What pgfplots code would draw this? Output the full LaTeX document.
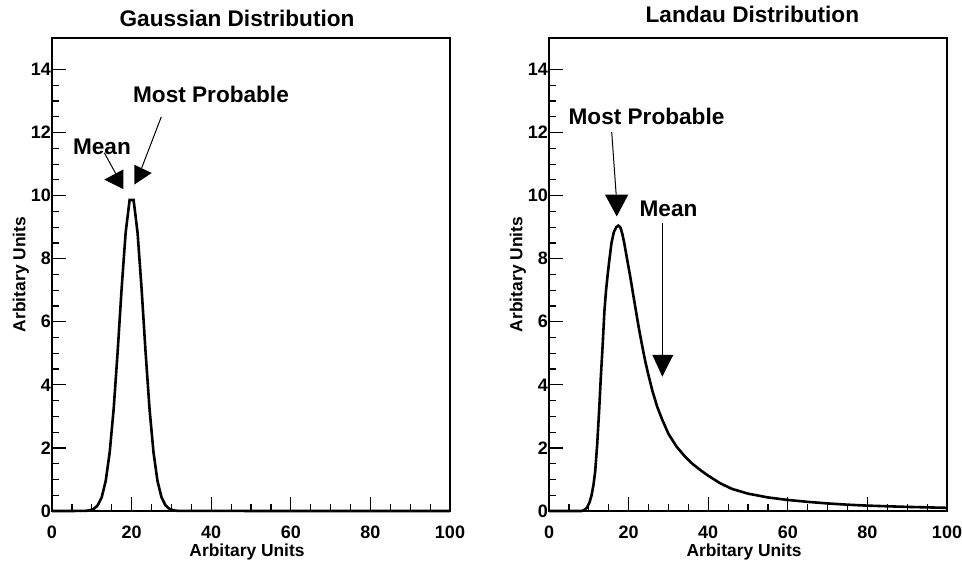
\documentclass[border=0pt]{standalone}
\usepackage{fontspec}
\setmainfont{Liberation Sans}
\usepackage{pgfplots}
\pgfplotsset{compat=1.18}
\usepackage{pgfplotstable}

\pgfplotstableread{
x y
0 0
7.5 0.002
8.5 0.006
9.5 0.022
10.5 0.066
11.5 0.181
12.5 0.439
13.5 0.957
14.5 1.863
15.5 3.247
16.5 5.063
17.5 7.066
18.5 8.825
19.5 9.862
20.5 9.862
21.5 8.825
22.5 7.066
23.5 5.063
24.5 3.247
25.5 1.863
26.5 0.957
27.5 0.439
28.5 0.181
29.5 0.066
30.5 0.022
31.5 0.006
32.5 0.002
100 0
}\gauss

\pgfplotstableread{
x y
0 0
8.2 0.0
9.0 0.04
9.6 0.12
10.2 0.28
10.7 0.5
11.2 0.85
11.6 1.25
12.1 2.1
12.6 3.2
13.0 4.2
13.5 5.3
13.9 6.3
14.3 6.95
14.7 7.45
15.2 8.0
15.7 8.5
16.3 8.85
16.9 9.0
17.4 9.05
17.9 9.0
18.4 8.8
18.9 8.5
19.6 8.0
20.4 7.44
21.1 6.9
21.8 6.38
22.5 5.85
23.3 5.31
24.1 4.8
24.9 4.35
26.0 3.8
27.2 3.3
28.5 2.88
30.0 2.45
32.0 2.05
34.0 1.75
36.0 1.5
38.0 1.3
40.0 1.12
43.0 0.88
46.0 0.7
50.0 0.55
55.0 0.43
60.0 0.35
65.0 0.29
70.0 0.24
75.0 0.2
80.0 0.17
85.0 0.15
90.0 0.13
95.0 0.115
100.0 0.1
}\landau

\tikzset{note/.style={font=\fontsize{11.3}{13}\selectfont\bfseries},
  ttl/.style={font=\fontsize{11.3}{13}\selectfont\bfseries, anchor=base}}

\pgfplotsset{rootstyle/.style={
  scale only axis, width=199pt, height=236.5pt,
  xmin=0, xmax=100, ymin=0, ymax=15, clip=false,
  xtick={0,20,...,100}, ytick={0,2,...,14},
  minor x tick num=3, minor y tick num=3,
  tick align=inside, xtick pos=lower, ytick pos=left,
  major tick length=7pt, minor tick length=3.5pt,
  axis line style={line width=0.7pt},
  every tick/.style={black, line width=0.6pt},
  ticklabel style={font=\fontsize{9}{10}\selectfont\bfseries},
  xticklabel style={yshift=-4pt},
  yticklabel style={xshift=3pt},
  /pgf/number format/assume math mode=true,
  label style={font=\fontsize{8.7}{10}\selectfont\bfseries},
  xlabel={Arbitary Units}, ylabel={Arbitary Units},
  xlabel style={at={(axis description cs:0.49,-0.086)}, anchor=center},
  ylabel style={at={(axis description cs:-0.078,0.5)}, anchor=center},
  anchor=south west,
}}

\begin{document}
\begin{tikzpicture}
\useasboundingbox (0,0) rectangle (481pt,280.5pt);

\begin{axis}[rootstyle, at={(26pt,25pt)}]
\addplot[black, line width=1.3pt] table {\gauss};
\node[ttl] at (rel axis cs:0.465,1.024) {Gaussian Distribution};
\node[note] at (axis cs:12.56,11.56) {Mean};
\node[note] at (axis cs:39.95,13.2) {Most Probable};
\draw[line width=0.5pt] (axis cs:13.14,11.36) -- (axis cs:16.01,10.70);
\fill (axis cs:13.14,10.51) -- (axis cs:17.91,10.83) -- (axis cs:17.91,10.21) -- cycle;
\draw[line width=0.5pt] (axis cs:27.46,12.50) -- (axis cs:22.54,10.88);
\fill (axis cs:20.68,10.98) -- (axis cs:20.68,10.35) -- (axis cs:25.05,10.72) -- cycle;
\end{axis}

\begin{axis}[rootstyle, at={(274.5pt,25pt)}]
\addplot[black, line width=1.3pt] table {\landau};
\node[ttl] at (rel axis cs:0.511,1.032) {Landau Distribution};
\node[note] at (axis cs:24.5,12.51) {Most Probable};
\node[note] at (axis cs:30.03,9.59) {Mean};
\draw[line width=0.5pt] (axis cs:15.75,12.02) -- (axis cs:16.88,10.03);
\fill (axis cs:14.07,10.03) -- (axis cs:19.92,10.03) -- (axis cs:17.01,9.34) -- cycle;
\draw[line width=0.5pt] (axis cs:28.52,9.13) -- (axis cs:28.52,4.95);
\fill (axis cs:25.95,4.95) -- (axis cs:31.23,4.95) -- (axis cs:28.47,4.26) -- cycle;
\end{axis}
\end{tikzpicture}
\end{document}
